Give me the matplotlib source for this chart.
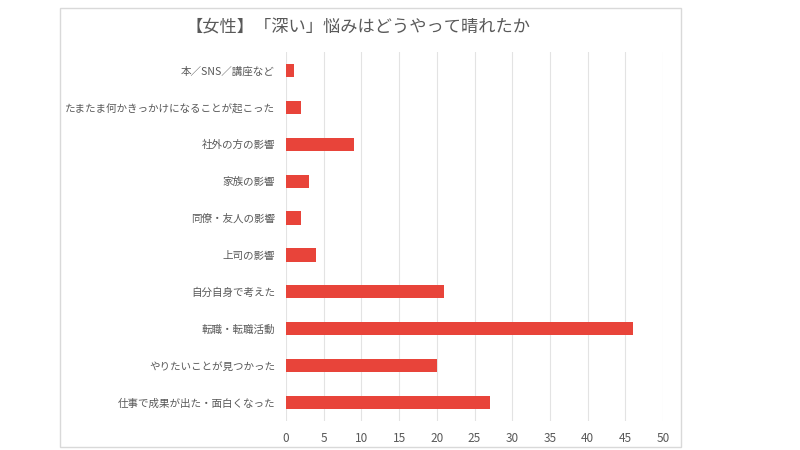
import matplotlib
matplotlib.use("Agg")
from matplotlib import pyplot as plt
from matplotlib.patches import Rectangle

plt.rcParams['font.family'] = ['Noto Sans CJK JP', 'DejaVu Sans']

# data, listed top to bottom as in the chart
labels = ['本／SNS／講座など', 'たまたま何かきっかけになることが起こった', '社外の方の影響',
          '家族の影響', '同僚・友人の影響', '上司の影響', '自分自身で考えた',
          '転職・転職活動', 'やりたいことが見つかった', '仕事で成果が出た・面白くなった']
values = [1, 2, 9, 3, 2, 4, 21, 46, 20, 27]
xticks = [0, 5, 10, 15, 20, 25, 30, 35, 40, 45, 50]
title = '【女性】「深い」悩みはどうやって晴れたか'

fig = plt.figure(figsize=(8, 4.5), dpi=100)
fig.patch.set_facecolor('white')

# outer chart border
fig.patches.append(Rectangle((60/800, 3/450), 621/800, 439/450, transform=fig.transFigure,
                             fill=False, edgecolor='#d9d9d9', linewidth=1))

ax = fig.add_axes([286/800, 29/450, 377/800, 369/450])
ypos = list(range(len(labels)))[::-1]
ax.barh(ypos, values, height=0.36, color='#e8443a', zorder=3)
ax.set_ylim(-0.5, len(labels) - 0.5)
ax.set_xlim(0, 50)
ax.set_xticks(xticks)
ax.set_yticks(ypos)
ax.set_yticklabels(labels)
ax.grid(axis='x', color='#e3e3e3', linewidth=0.8, zorder=0)
for s in ax.spines.values():
    s.set_visible(False)
ax.tick_params(length=0, colors='#595959', labelsize=7.6)
ax.tick_params(axis='x', labelsize=8.5, pad=8)
ax.tick_params(axis='y', pad=8)

fig.text(358/800, 1 - 27/450, title, ha='center', va='center', fontsize=12.4, color='#595959')

fig.savefig('out.png', dpi=100)
